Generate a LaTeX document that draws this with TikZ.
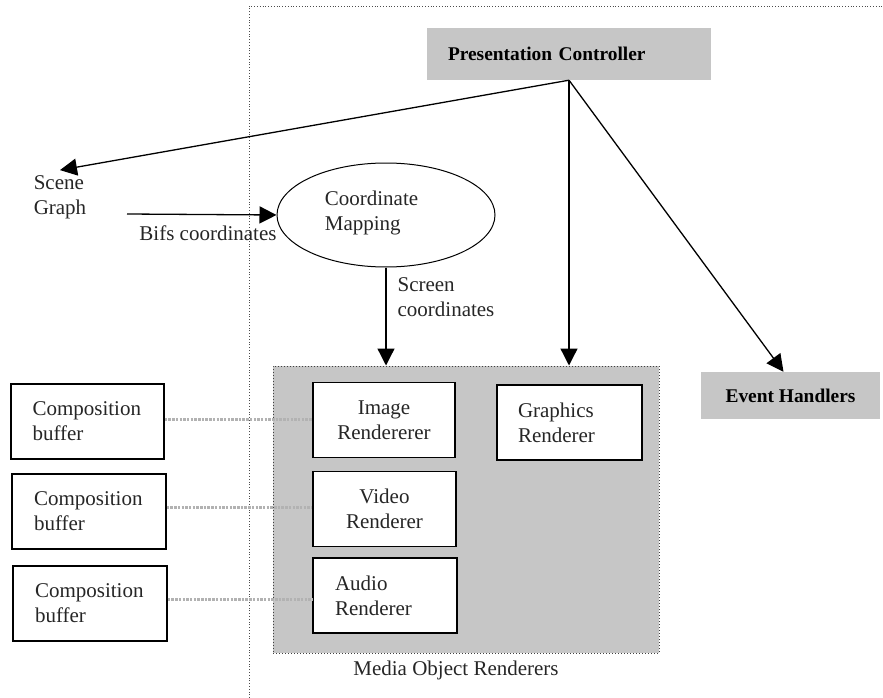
\documentclass[tikz,border=0pt]{standalone}
\usepackage{fontspec}
\setmainfont{Liberation Serif}
\usetikzlibrary{arrows.meta,shapes.geometric,calc}

\tikzset{
  every node/.style={font=\fontsize{21}{25}\selectfont, text=black!85},
  shaded/.style={fill=gray!45, draw=none, inner sep=0pt, text=black,
    font=\fontsize{19.4}{23}\selectfont\bfseries},
  plainbox/.style={draw=black, line width=1.6pt, fill=white, inner sep=0pt,
    minimum height=75pt},
  bufbox/.style={plainbox, line width=1.4pt, align=left, text width=110pt},
  conn/.style={draw=black, line width=1.3pt, -{Triangle[length=17pt,width=17pt]}},
  feed/.style={draw=black!30, line width=2.5pt, dash pattern=on 2.5pt off 1.2pt},
  pageframe/.style={draw=black!70, line width=0.8pt, dotted},
  txt/.style={align=left, inner sep=0pt}
}

\begin{document}
\begin{tikzpicture}[x=1pt,y=-1pt]
\useasboundingbox (0,0) rectangle (883,698);

% dotted page frame
\draw[pageframe] (249,698) -- (249,6) -- (883,6);

% controller and event handlers
\node[shaded, align=left, text width=242pt, inner xsep=21pt, minimum height=52pt] (pc) at (569,54) {Presentation Controller};
\node[shaded, minimum width=179pt, minimum height=47pt] (eh) at (790.5,395.5) {Event Handlers};

% scene graph and coordinate mapping
\node[txt] (sg) at (60,197) {Scene\\Graph};
\node[draw=black, ellipse, line width=1pt, minimum width=218pt, minimum height=104pt,
      inner sep=0pt] (cm) at (386,215) {};
\node[txt] (cmtext) at (371.5,213) {Coordinate\\Mapping};
\coordinate (bifs) at (127,214);

% media object renderers
\node[draw=black!75, dotted, line width=1pt, fill=gray!45, minimum width=386pt,
      minimum height=287pt, inner sep=0pt] (mor) at (466,509.5) {};
\node (morlabel) at (456,670) {Media Object Renderers};

\node[plainbox, minimum width=142pt, align=center] (ir) at (384,420) {Image\\Rendererer};
\node[plainbox, minimum width=143pt, align=center] (vr) at (384.5,509) {Video\\Renderer};
\node[plainbox, minimum width=144pt, align=left, text width=100pt] (ar) at (385,595.5) {Audio\\Renderer};
\node[plainbox, minimum width=145pt, align=left, text width=103pt] (gr) at (569.5,422.5) {Graphics\\Renderer};

% composition buffers
\node[bufbox, minimum width=153pt] (cb1) at (87.5,421.5) {Composition\\buffer};
\node[bufbox, minimum width=154pt] (cb2) at (89,511.5) {Composition\\buffer};
\node[bufbox, minimum width=154pt] (cb3) at (90,603.5) {Composition\\buffer};

% buffer links
\draw[feed] ([yshift=2pt]cb1.east) -- ([yshift=2pt]cb1.east -| ir.west);
\draw[feed] ([yshift=4pt]cb2.east) -- ([yshift=4pt]cb2.east -| vr.west);
\draw[feed] ([yshift=4pt]cb3.east) -- ([yshift=4pt]cb3.east -| ar.west);

% control and data flow
\draw[conn] (pc.south) -- ([yshift=5pt]sg.north);
\draw[conn] (pc.south) -- (pc.south |- mor.north);
\draw[conn] (pc.south) -- ([xshift=-7pt]eh.north);
\draw[conn] (bifs) -- (cm.west);
\draw[conn] (cm.south) -- (cm.south |- mor.north);

% connector labels
\node[txt] (bifslabel) at (208,233) {Bifs coordinates};
\node[txt] (scrlabel) at (446,297) {Screen\\coordinates};
\end{tikzpicture}
\end{document}
